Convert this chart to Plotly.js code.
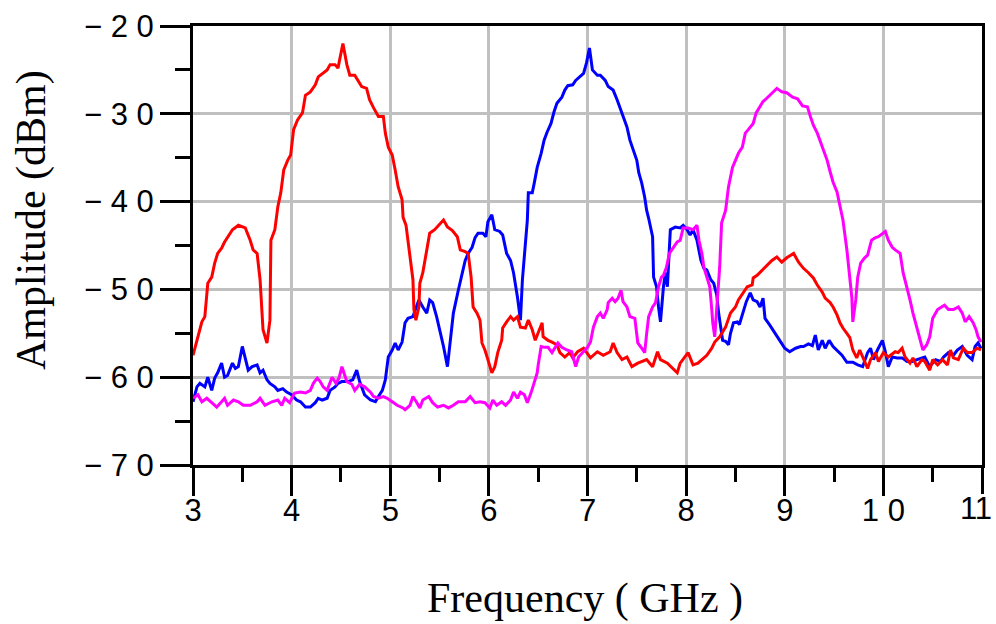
<!DOCTYPE html>
<html>
<head>
<meta charset="utf-8">
<script src="https://cdn.plot.ly/plotly-3.0.1.min.js"></script>
<style>html,body{margin:0;padding:0;background:#fff;}#chart{width:996px;height:624px;}</style>
</head>
<body>
<div id="chart"></div>
<script>
// ---- data (frequency in GHz, amplitude in dBm) ----
var redFreq = [3.00,3.03,3.05,3.09,3.12,3.15,3.19,3.22,3.25,3.29,3.32,3.35,3.40,3.46,3.53,3.58,3.61,3.65,3.68,3.71,3.75,3.78,3.79,3.83,3.86,3.89,3.92,3.96,3.99,4.02,4.06,4.11,4.14,4.19,4.24,4.27,4.31,4.36,4.39,4.44,4.47,4.49,4.52,4.56,4.59,4.64,4.67,4.71,4.76,4.79,4.83,4.88,4.93,4.95,4.98,5.02,5.05,5.08,5.12,5.13,5.16,5.19,5.23,5.24,5.26,5.29,5.30,5.33,5.37,5.40,5.45,5.51,5.54,5.58,5.63,5.68,5.71,5.76,5.79,5.82,5.84,5.88,5.91,5.93,5.96,5.99,6.03,6.06,6.09,6.13,6.14,6.18,6.22,6.25,6.29,6.32,6.37,6.40,6.44,6.47,6.50,6.54,6.55,6.60,6.64,6.69,6.72,6.77,6.82,6.85,6.90,6.96,7.03,7.10,7.16,7.23,7.26,7.30,7.35,7.40,7.45,7.51,7.60,7.66,7.71,7.74,7.81,7.87,7.91,7.94,7.99,8.02,8.07,8.12,8.16,8.21,8.26,8.29,8.34,8.40,8.45,8.50,8.53,8.58,8.62,8.67,8.68,8.72,8.77,8.82,8.87,8.92,8.97,9.02,9.09,9.14,9.19,9.24,9.29,9.33,9.38,9.41,9.46,9.49,9.53,9.56,9.59,9.63,9.66,9.69,9.73,9.76,9.80,9.84,9.87,9.92,9.95,10.00,10.05,10.12,10.15,10.19,10.22,10.27,10.30,10.34,10.39,10.42,10.47,10.50,10.55,10.60,10.65,10.68,10.71,10.76,10.81,10.85,10.90,10.95,10.99];
var redAmp = [-57.5,-56.3,-55.4,-53.7,-53.1,-49.3,-48.6,-47.0,-45.9,-45.3,-44.6,-44.1,-43.2,-42.7,-43.0,-44.4,-45.5,-45.9,-48.9,-54.6,-56.1,-53.5,-44.4,-43.2,-40.6,-39.0,-36.4,-35.3,-34.7,-31.8,-30.7,-29.9,-27.9,-27.5,-26.7,-25.8,-25.4,-25.0,-24.4,-24.4,-24.8,-23.6,-22.0,-24.4,-25.6,-25.6,-26.2,-26.9,-27.1,-28.4,-29.3,-30.3,-30.3,-32.2,-33.8,-34.7,-36.4,-38.3,-39.8,-41.8,-42.7,-45.5,-48.9,-52.3,-53.5,-52.0,-49.3,-48.1,-45.5,-43.6,-43.2,-42.4,-42.1,-42.9,-43.3,-44.0,-45.5,-45.7,-45.9,-48.6,-52.0,-52.7,-53.5,-56.1,-56.9,-58.0,-59.5,-58.8,-57.2,-55.8,-54.4,-53.7,-53.1,-53.5,-53.1,-54.3,-54.4,-53.5,-54.6,-55.8,-55.0,-53.8,-55.4,-55.8,-56.0,-56.3,-57.2,-57.7,-57.2,-57.8,-57.1,-56.7,-57.8,-57.1,-57.5,-57.1,-56.1,-57.2,-58.0,-57.7,-58.8,-58.4,-58.0,-58.8,-57.1,-58.0,-58.4,-59.0,-59.5,-58.4,-57.7,-57.2,-58.6,-58.4,-58.0,-57.5,-56.7,-56.0,-55.4,-54.3,-52.7,-52.0,-51.2,-50.4,-49.7,-49.5,-48.7,-48.4,-47.8,-47.2,-46.7,-46.3,-46.9,-46.4,-45.9,-46.9,-47.6,-48.1,-48.7,-49.5,-50.3,-51.0,-51.5,-52.0,-52.9,-53.8,-54.4,-55.0,-55.5,-56.9,-57.8,-56.9,-58.0,-59.0,-58.0,-57.2,-58.2,-57.2,-57.7,-57.1,-57.2,-56.7,-57.7,-58.4,-57.8,-58.8,-58.0,-58.2,-59.2,-58.0,-58.6,-58.0,-58.6,-56.9,-57.8,-58.0,-56.7,-57.2,-57.2,-56.7,-56.9];

var blueFreq = [3.00,3.04,3.07,3.12,3.15,3.19,3.22,3.25,3.29,3.32,3.35,3.40,3.43,3.46,3.50,3.53,3.56,3.60,3.65,3.68,3.71,3.75,3.78,3.83,3.86,3.91,3.95,4.00,4.05,4.09,4.14,4.19,4.24,4.27,4.31,4.36,4.39,4.44,4.47,4.51,4.57,4.62,4.66,4.69,4.74,4.80,4.85,4.88,4.92,4.95,4.98,5.02,5.05,5.08,5.12,5.15,5.18,5.23,5.26,5.29,5.33,5.37,5.40,5.43,5.47,5.51,5.54,5.58,5.61,5.64,5.69,5.72,5.76,5.79,5.83,5.86,5.89,5.94,5.97,5.99,6.03,6.06,6.11,6.14,6.18,6.22,6.25,6.29,6.30,6.32,6.34,6.36,6.39,6.40,6.44,6.46,6.49,6.53,6.56,6.59,6.63,6.66,6.69,6.74,6.77,6.80,6.85,6.88,6.91,6.96,6.99,7.02,7.05,7.10,7.13,7.18,7.21,7.26,7.30,7.33,7.36,7.40,7.43,7.46,7.50,7.52,7.55,7.58,7.60,7.62,7.66,7.67,7.70,7.72,7.74,7.77,7.79,7.81,7.83,7.84,7.89,7.94,7.97,8.01,8.04,8.07,8.11,8.15,8.18,8.21,8.25,8.28,8.31,8.33,8.37,8.40,8.43,8.45,8.48,8.52,8.54,8.58,8.61,8.65,8.68,8.72,8.75,8.78,8.80,8.85,8.88,8.92,8.96,9.00,9.05,9.11,9.16,9.19,9.24,9.28,9.31,9.34,9.38,9.41,9.45,9.49,9.54,9.58,9.63,9.69,9.74,9.79,9.84,9.87,9.90,9.94,9.99,10.02,10.05,10.09,10.14,10.19,10.24,10.29,10.34,10.39,10.42,10.47,10.53,10.58,10.61,10.66,10.71,10.75,10.80,10.85,10.90,10.93,10.96,10.99];
var blueAmp = [-62.8,-61.1,-60.7,-61.1,-60.0,-61.5,-60.1,-59.5,-58.4,-60.0,-59.8,-58.4,-59.0,-58.8,-56.5,-58.0,-59.2,-58.8,-58.6,-59.5,-59.2,-60.3,-60.7,-61.1,-61.5,-61.3,-61.7,-62.0,-62.6,-62.8,-63.4,-63.4,-62.9,-62.4,-62.6,-62.4,-61.5,-61.1,-60.7,-60.5,-60.5,-60.3,-59.2,-60.5,-62.0,-62.6,-62.8,-62.2,-61.5,-60.3,-57.7,-56.9,-56.1,-56.9,-56.0,-53.8,-53.3,-53.1,-52.1,-51.2,-52.0,-52.7,-51.2,-51.5,-53.1,-54.9,-56.5,-58.8,-55.8,-52.7,-50.1,-48.6,-46.7,-45.9,-45.2,-44.1,-43.6,-43.6,-44.0,-42.3,-41.5,-43.2,-43.4,-43.8,-45.9,-46.7,-48.1,-50.9,-52.0,-53.5,-48.9,-45.9,-42.1,-39.0,-39.0,-37.9,-36.1,-34.5,-33.0,-32.1,-31.1,-29.8,-28.8,-28.1,-27.3,-26.8,-26.7,-26.2,-25.9,-25.4,-24.2,-22.5,-25.0,-25.6,-25.6,-26.2,-26.9,-27.3,-28.4,-29.3,-30.3,-31.5,-33.0,-33.9,-35.3,-36.7,-37.9,-39.5,-41.0,-41.9,-44.0,-48.6,-49.7,-52.0,-53.7,-49.7,-48.1,-49.7,-45.2,-43.2,-42.9,-43.0,-42.7,-43.2,-43.8,-43.2,-44.4,-46.7,-47.6,-47.8,-48.9,-49.3,-50.6,-52.7,-55.8,-55.9,-56.3,-55.0,-53.8,-53.7,-54.0,-52.6,-51.4,-50.4,-51.2,-51.4,-52.0,-51.0,-53.3,-54.1,-54.6,-55.2,-56.0,-56.7,-57.1,-56.7,-56.5,-56.5,-56.2,-56.4,-55.2,-56.9,-55.8,-56.7,-55.8,-56.5,-57.1,-57.5,-58.3,-58.3,-58.6,-58.8,-57.2,-56.7,-58.0,-56.9,-55.8,-57.1,-58.8,-57.7,-57.8,-57.8,-58.2,-58.2,-58.0,-57.8,-57.7,-58.8,-58.0,-58.2,-57.7,-57.2,-57.5,-56.9,-56.5,-57.5,-58.0,-56.5,-56.1,-56.7];

var magentaFreq = [3.00,3.05,3.09,3.14,3.19,3.24,3.29,3.32,3.35,3.41,3.46,3.51,3.58,3.65,3.68,3.73,3.80,3.86,3.90,3.93,3.98,4.03,4.09,4.14,4.19,4.22,4.26,4.29,4.32,4.36,4.41,4.45,4.48,4.51,4.56,4.61,4.64,4.69,4.74,4.80,4.83,4.88,4.93,4.97,5.02,5.07,5.13,5.15,5.20,5.23,5.27,5.30,5.33,5.39,5.43,5.48,5.54,5.59,5.64,5.69,5.76,5.81,5.86,5.91,5.96,6.01,6.04,6.08,6.13,6.17,6.22,6.25,6.29,6.32,6.36,6.39,6.43,6.46,6.49,6.50,6.53,6.57,6.60,6.64,6.67,6.70,6.74,6.79,6.84,6.88,6.91,6.96,7.00,7.03,7.06,7.10,7.13,7.16,7.20,7.21,7.25,7.28,7.31,7.34,7.36,7.40,7.43,7.48,7.51,7.55,7.58,7.60,7.62,7.66,7.69,7.72,7.75,7.77,7.80,7.83,7.87,7.91,7.94,7.97,8.02,8.07,8.11,8.13,8.16,8.18,8.21,8.24,8.26,8.27,8.29,8.31,8.32,8.34,8.36,8.40,8.43,8.47,8.50,8.53,8.57,8.60,8.63,8.68,8.71,8.75,8.78,8.82,8.85,8.88,8.92,8.97,9.02,9.08,9.13,9.18,9.23,9.26,9.29,9.33,9.36,9.39,9.43,9.46,9.49,9.53,9.56,9.59,9.63,9.66,9.68,9.69,9.72,9.74,9.77,9.81,9.84,9.88,9.92,9.95,9.99,10.02,10.05,10.09,10.12,10.17,10.20,10.24,10.27,10.30,10.34,10.37,10.40,10.44,10.47,10.50,10.55,10.59,10.62,10.66,10.71,10.76,10.80,10.83,10.87,10.91,10.94,10.96,10.99];
var magentaAmp = [-62.4,-62.0,-62.8,-62.4,-62.9,-63.4,-62.8,-62.4,-63.2,-62.6,-62.8,-63.2,-63.2,-62.8,-62.4,-63.2,-62.8,-62.6,-63.2,-62.4,-62.9,-61.8,-61.7,-61.8,-61.5,-60.7,-60.1,-60.5,-61.1,-61.5,-60.0,-60.7,-60.1,-58.8,-60.5,-60.8,-61.5,-60.8,-61.1,-61.7,-62.2,-62.4,-62.2,-62.4,-62.8,-63.2,-63.5,-63.7,-63.2,-62.2,-62.9,-63.5,-62.6,-62.2,-62.9,-63.4,-63.2,-63.5,-63.2,-62.8,-62.8,-62.2,-62.9,-62.8,-62.9,-63.5,-62.6,-63.2,-62.8,-63.2,-62.6,-61.7,-62.4,-61.7,-62.0,-62.9,-61.7,-60.7,-59.5,-58.6,-56.5,-56.6,-56.6,-57.2,-56.6,-56.1,-56.6,-56.9,-57.1,-58.8,-57.7,-57.1,-56.6,-56.0,-54.3,-53.1,-52.7,-53.3,-52.3,-51.5,-51.0,-51.4,-51.0,-50.1,-51.4,-52.0,-53.1,-53.3,-56.1,-56.7,-57.2,-55.0,-53.1,-52.0,-51.5,-49.7,-48.6,-48.4,-47.5,-45.9,-45.2,-44.6,-44.4,-43.0,-43.0,-43.2,-42.7,-44.4,-45.9,-47.5,-48.6,-49.7,-52.3,-53.8,-55.4,-52.3,-49.7,-47.5,-42.4,-41.0,-38.3,-36.1,-35.3,-34.5,-33.8,-32.2,-31.8,-31.1,-29.9,-29.2,-28.6,-28.2,-27.9,-27.5,-27.1,-27.5,-27.6,-28.1,-28.3,-29.1,-29.2,-30.3,-31.3,-32.2,-33.2,-34.1,-35.3,-36.6,-37.8,-38.9,-40.6,-42.1,-45.5,-48.9,-50.9,-53.7,-51.2,-48.6,-47.0,-46.4,-46.1,-44.4,-44.1,-44.0,-43.6,-43.4,-44.4,-45.2,-45.5,-45.9,-48.1,-49.7,-51.2,-52.7,-54.3,-55.8,-56.9,-56.3,-55.4,-53.3,-52.3,-52.0,-51.8,-52.3,-52.3,-52.0,-52.7,-53.7,-53.1,-53.8,-54.6,-55.4,-56.0];

var xTickVals = [3,4,5,6,7,8,9,10];
var xTickText = ["3","4","5","6","7","8","9","1 0"];
var xEndTickVals = [11];
var xEndTickText = ["11"];
var yTickVals = [-70,-60,-50,-40,-30,-20];
var yTickText = ["\u2212 7 0","\u2212 6 0","\u2212 5 0","\u2212 4 0","\u2212 3 0","\u2212 2 0"];
var xTitle = "Frequency ( GHz )";
var yTitle = "Amplitude (dBm)";

function trace(x, y, color, xa) {
  return {x: x, y: y, type: 'scatter', mode: 'lines', xaxis: xa || 'x',
          line: {color: color, width: 3}, hoverinfo: 'skip', showlegend: false};
}

var data = [
  trace(magentaFreq, magentaAmp, '#ff00ff', 'x2'),
  trace(blueFreq, blueAmp, '#0000ff'),
  trace(redFreq, redAmp, '#ff0000')
];

var tickFont = {family: 'Liberation Sans, Arial, sans-serif', size: 31, color: '#000'};
var titleFont = {family: 'Liberation Serif, Times New Roman, serif', size: 42, color: '#000'};

var layout = {
  width: 996, height: 624,
  margin: {l: 193, r: 14, t: 26, b: 159, pad: 0},
  paper_bgcolor: '#fff', plot_bgcolor: '#fff',
  xaxis: {
    range: [3, 11], tickmode: 'array', tickvals: xTickVals, ticktext: xTickText,
    showgrid: true, gridcolor: '#c0c0c0', gridwidth: 3,
    showline: true, linecolor: '#000', linewidth: 3, mirror: true,
    ticks: 'outside', ticklen: 28, tickwidth: 3, tickcolor: '#000',
    ticklabeloverflow: 'allow', ticklabelstandoff: -12,
    minor: {dtick: 0.5, tick0: 3, ticks: 'outside', ticklen: 14, tickwidth: 3, tickcolor: '#000', showgrid: false},
    zeroline: false, tickfont: tickFont, fixedrange: true
  },
  xaxis2: {
    overlaying: 'x', anchor: 'y', side: 'bottom',
    range: [3, 11], tickmode: 'array', tickvals: xEndTickVals, ticktext: xEndTickText,
    showgrid: false, showline: false, zeroline: false,
    ticks: 'outside', ticklen: 28, tickwidth: 3, tickcolor: '#000',
    ticklabeloverflow: 'allow', ticklabelstandoff: -12, ticklabelshift: -6,
    tickfont: tickFont, fixedrange: true
  },
  yaxis: {
    range: [-70, -20], tickmode: 'array', tickvals: yTickVals, ticktext: yTickText,
    showgrid: true, gridcolor: '#c0c0c0', gridwidth: 3,
    showline: true, linecolor: '#000', linewidth: 3, mirror: true,
    ticks: 'outside', ticklen: 30, tickwidth: 3, tickcolor: '#000',
    ticklabeloverflow: 'allow',
    minor: {dtick: 5, tick0: -70, ticks: 'outside', ticklen: 15, tickwidth: 3, tickcolor: '#000', showgrid: false},
    zeroline: false, tickfont: tickFont, fixedrange: true
  },
  annotations: [
    {text: xTitle, xref: 'paper', yref: 'paper', x: 0.497, y: -0.245, xanchor: 'center', yanchor: 'top',
     showarrow: false, font: titleFont},
    {text: yTitle, xref: 'paper', yref: 'paper', x: -0.2053, y: 0.558, xanchor: 'center', yanchor: 'middle',
     textangle: -90, showarrow: false, font: titleFont}
  ]
};

Plotly.newPlot('chart', data, layout, {staticPlot: true, displayModeBar: false});
</script>
</body>
</html>
